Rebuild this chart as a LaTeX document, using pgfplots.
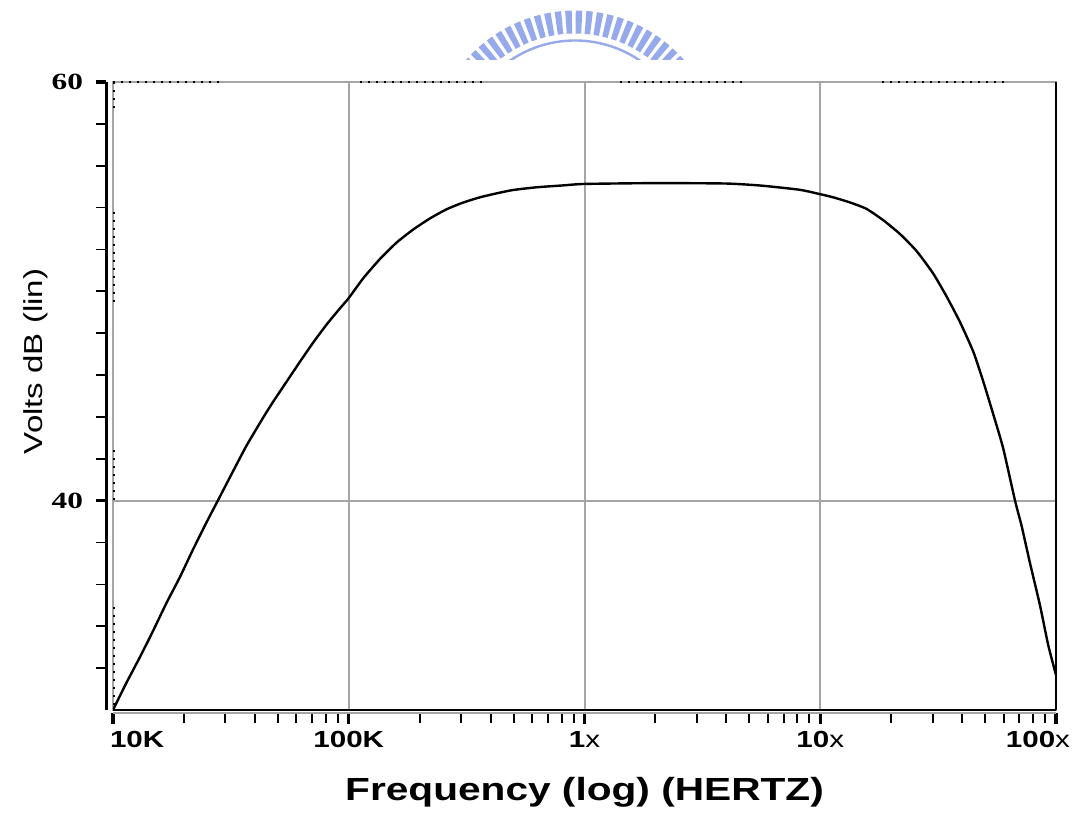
\documentclass[border=0pt]{standalone}
\usepackage{fontspec}
\usepackage{pgfplots}
\pgfplotsset{compat=1.18}
\usepackage{pgfplotstable}
\setmainfont{Liberation Sans}
\newfontfamily\sansS[FakeStretch=1.27]{Liberation Sans}
\newfontfamily\serifS[FakeStretch=1.35]{Liberation Serif}
\definecolor{gridgray}{RGB}{165,165,165}
\definecolor{logoblue}{RGB}{150,170,235}
\pgfplotstableread{
f db
10000 30.00
11400 31.30
12970 32.50
14790 33.78
16870 35.12
19190 36.33
21830 37.66
24890 38.95
27860 40.01
32280 41.40
36810 42.62
43250 43.95
47750 44.72
54450 45.68
61940 46.62
70630 47.55
80350 48.40
91200 49.15
100000 49.68
115100 50.62
135500 51.54
159200 52.32
187500 52.95
220800 53.48
260000 53.92
305500 54.24
359700 54.49
423600 54.68
497700 54.84
625200 54.97
811000 55.06
1000000 55.13
1995000 55.17
3981000 55.15
5623000 55.05
8185000 54.85
10000000 54.64
11350000 54.49
13340000 54.25
15700000 53.94
18490000 53.40
21780000 52.74
25640000 51.92
30130000 50.85
34360000 49.75
39080000 48.55
44570000 47.12
49090000 45.71
54200000 44.12
59700000 42.50
66990000 40.01
71450000 38.80
77450000 37.05
85510000 35.00
92680000 33.10
100000000 31.67
}\curve
\begin{document}
\begin{tikzpicture}
% bounding box
\path (-56.5pt,-52pt) rectangle (481.5pt,355pt);
% watermark logo
\begin{scope}[shift={(231pt,277.25pt)}]
  \clip (-100pt,47.75pt) rectangle (100pt,77.5pt);
  \foreach \a in {38,42.2,...,142} {
    \fill[logoblue] (\a-1.3:61pt) -- (\a-1.3:72.5pt) -- (\a+1.3:72.5pt) -- (\a+1.3:61pt) -- cycle;
  }
  \draw[logoblue, line width=1.2pt] (40:57.5pt) arc (40:140:57.5pt);
\end{scope}
% main axis: frame, grid, curve
\begin{axis}[scale only axis, width=471.5pt, height=314pt,
  xmode=log, xmin=1e4, xmax=1e8, ymin=30, ymax=60,
  at={(0,0)}, anchor=south west,
  xtick={1e4,1e5,1e8}, ytick={40,60},
  extra x ticks={1e6,1e7},
  extra x tick style={grid style={gridgray, line width=1.8pt}},
  xticklabels={}, yticklabels={}, extra x tick labels={},
  tick style={draw=none},
  grid=major,
  major grid style={gridgray, line width=1pt},
  axis line style={gridgray, line width=1pt},
]
\addplot[black, line width=1.2pt, smooth, tension=0.35] table[x=f,y=db]{\curve};
\end{axis}
% frame decorations
\draw[black, line width=1.2pt] (0,0) -- (471.5pt,0);
\draw[black, line width=1.2pt] (471.5pt,0) -- (471.5pt,314pt);
\begin{scope}[black, line width=1.1pt, dash pattern=on 1.1pt off 2.9pt]
  \draw (0,314pt) -- (55pt,314pt);
  \draw (123.5pt,314pt) -- (187pt,314pt);
  \draw (253.5pt,314pt) -- (317pt,314pt);
  \draw (384.5pt,314pt) -- (447.5pt,314pt);
  \draw (0.6pt,314pt) -- (0.6pt,300pt);
  \draw (0.6pt,249pt) -- (0.6pt,201.5pt);
  \draw (0.6pt,130pt) -- (0.6pt,105pt);
  \draw (0.6pt,51.5pt) -- (0.6pt,0pt);
\end{scope}
% y axis (offset)
\begin{axis}[scale only axis, width=471.5pt, height=314pt,
  xmode=log, xmin=1e4, xmax=1e8, ymin=30, ymax=60,
  at={(-3.5pt,0)}, anchor=south west,
  axis x line=none, axis y line*=left,
  y axis line style={black, line width=1.5pt, -},
  ytick={40,60}, yticklabels={40,60}, minor ytick={32,34,...,58},
  tick align=outside, major tick length=5pt, minor tick length=5pt,
  major tick style={black, line width=1.6pt}, minor tick style={black, line width=0.9pt},
  yticklabel style={font=\serifS\bfseries\fontsize{11.6}{12}\selectfont, xshift=-3pt},
  ylabel={Volts dB (lin)},
  ylabel style={font=\sansS\fontsize{13}{15}\selectfont, at={(axis description cs:-0.075,0.555)}, anchor=center},
]
\end{axis}
% x axis (offset)
\begin{axis}[scale only axis, width=471.5pt, height=314pt,
  xmode=log, xmin=1e4, xmax=1e8, ymin=30, ymax=60,
  at={(0,-1.5pt)}, anchor=south west,
  axis y line=none, axis x line*=bottom,
  x axis line style={gridgray, line width=1pt, -},
  xtick={1e4,1e5,1e6,1e7,1e8},
  xticklabels={{\makebox[0pt][l]{\kern-1.5pt 10K}}, {100K}, {1{\mdseries x}}, {10{\mdseries x}}, {\makebox[0pt][r]{100{\mdseries x}\kern-7pt}}},
  minor xtick={2e4,3e4,4e4,5e4,6e4,7e4,8e4,9e4,2e5,3e5,4e5,5e5,6e5,7e5,8e5,9e5,2e6,3e6,4e6,5e6,6e6,7e6,8e6,9e6,2e7,3e7,4e7,5e7,6e7,7e7,8e7,9e7},
  tick align=outside, major tick length=5.5pt, minor tick length=5pt,
  major tick style={black, line width=1.6pt}, minor tick style={black, line width=1pt},
  xticklabel style={font=\sansS\bfseries\fontsize{11.65}{13}\selectfont},
  xlabel={Frequency (log) (HERTZ)},
  xlabel style={font=\sansS\bfseries\fontsize{16}{18}\selectfont, at={(axis description cs:0.5,-0.126)}, anchor=center},
]
\end{axis}
\end{tikzpicture}
\end{document}
